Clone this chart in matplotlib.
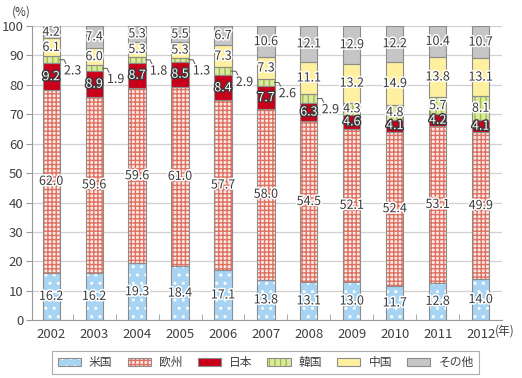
import matplotlib
matplotlib.use("Agg")
import matplotlib.pyplot as plt
import matplotlib.patheffects as pe
from matplotlib.patches import Patch
from matplotlib.legend_handler import HandlerTuple
import numpy as np

plt.rcParams['font.family'] = ['Noto Sans CJK JP', 'DejaVu Sans']
plt.rcParams['hatch.linewidth'] = 1.0

years = ["2002", "2003", "2004", "2005", "2006", "2007", "2008", "2009", "2010", "2011", "2012"]
us = [16.2, 16.2, 19.3, 18.4, 17.1, 13.8, 13.1, 13.0, 11.7, 12.8, 14.0]
eu = [62.0, 59.6, 59.6, 61.0, 57.7, 58.0, 54.5, 52.1, 52.4, 53.1, 49.9]
jp = [9.2, 8.9, 8.7, 8.5, 8.4, 7.7, 6.3, 4.6, 4.1, 4.2, 4.1]
kr = [2.3, 1.9, 1.8, 1.3, 2.9, 2.6, 2.9, 4.3, 4.8, 5.7, 8.1]
cn = [6.1, 6.0, 5.3, 5.3, 7.3, 7.3, 11.1, 13.2, 14.9, 13.8, 13.1]
other = [4.2, 7.4, 5.3, 5.5, 6.7, 10.6, 12.1, 12.9, 12.2, 10.4, 10.7]
series_names = ["米国", "欧州", "日本", "韓国", "中国", "その他"]
kr_outside = [True, True, True, True, True, True, True, False, False, False, False]

series = [us, eu, jp, kr, cn, other]
faces = ["#a8d4f4", "#fbeae6", "#c8001a", "#dbe9a6", "#fff0a0", "#c6c6c6"]
hatchcols = ["#ffffff", "#e07060", "#c8001a", "#9cbf3a", "#fff0a0", "#c6c6c6"]
hatches = ["..", "++++", None, "|||", None, None]

fig = plt.figure(figsize=(5.22, 3.78), dpi=100)
ax = fig.add_axes([0.061, 0.153, 0.901, 0.778])

x = np.arange(len(years))
w = 0.4
bottom = np.zeros(len(years))
txtcol = "#3a3a3a"
stroke = [pe.withStroke(linewidth=2.2, foreground="white")]
stroke_dark = [pe.withStroke(linewidth=2.0, foreground="#3a3a3a")]
fs = 9

for k, vals in enumerate(series):
    vals = np.array(vals)
    ax.bar(x, vals, w, bottom=bottom, color=faces[k], edgecolor=hatchcols[k],
           hatch=hatches[k], linewidth=0, zorder=2)
    ax.bar(x, vals, w, bottom=bottom, fill=False, edgecolor="#8c8c8c",
           linewidth=0.8, zorder=3)
    for i in range(len(years)):
        mid = bottom[i] + vals[i] / 2
        if k == 3 and kr_outside[i]:
            ax.plot([i + w / 2, i + 0.3, i + 0.38], [mid, mid, mid - 2.3],
                    color="#555555", lw=0.7, zorder=4, clip_on=False)
            ax.text(i + 0.5, mid - 3.8, f"{vals[i]:.1f}", ha="center", va="center",
                    fontsize=fs, color=txtcol, path_effects=stroke, zorder=5)
        elif k == 2:
            ax.text(i, mid, f"{vals[i]:.1f}", ha="center", va="center",
                    fontsize=fs, color="white", path_effects=stroke_dark, zorder=5)
        else:
            ax.text(i, mid, f"{vals[i]:.1f}", ha="center", va="center",
                    fontsize=fs, color=txtcol, path_effects=stroke, zorder=5)
    bottom += vals

ax.set_xlim(-0.45, 10.5)
ax.set_ylim(0, 100)
ax.set_yticks(range(0, 101, 10))
ax.set_xticks(x)
ax.set_xticklabels(years)
ax.set_xticks(x[:-1] + 0.5, minor=True)
ax.tick_params(axis="x", which="major", length=0, labelsize=9.5, colors="#404040", pad=6)
ax.tick_params(axis="x", which="minor", length=4, color="#999999", direction="in")
ax.tick_params(axis="y", length=4, color="#999999", labelsize=9.5, colors="#404040", pad=2)
ax.yaxis.grid(True, color="#d0d0d0", lw=0.9, zorder=0)
ax.set_axisbelow(True)
for s in ["top", "right"]:
    ax.spines[s].set_visible(False)
ax.spines["left"].set_color("#999999")
ax.spines["bottom"].set_color("#999999")

fig.text(0.022, 0.968, "(%)", fontsize=8.5, color="#404040", va="center", ha="left")
fig.text(0.948, 0.124, "(年)", fontsize=8.5, color="#404040", va="center", ha="left")

handles = [(Patch(facecolor=faces[k], edgecolor=hatchcols[k], hatch=hatches[k], linewidth=0),
            Patch(fill=False, edgecolor="#8c8c8c", linewidth=0.8))
           for k in range(6)]
leg = fig.legend(handles, series_names, loc="center", bbox_to_anchor=(0.509, 0.041), ncol=6,
                 handler_map={tuple: HandlerTuple(ndivide=1, pad=0)},
                 frameon=True, fancybox=False, edgecolor="#999999", fontsize=8.5,
                 handlelength=1.95, handleheight=0.75, columnspacing=1.3, handletextpad=0.68,
                 borderpad=0.45, borderaxespad=0)
leg.get_frame().set_linewidth(0.8)
for t in leg.get_texts():
    t.set_color("#404040")

fig.savefig("out.png", dpi=100)
